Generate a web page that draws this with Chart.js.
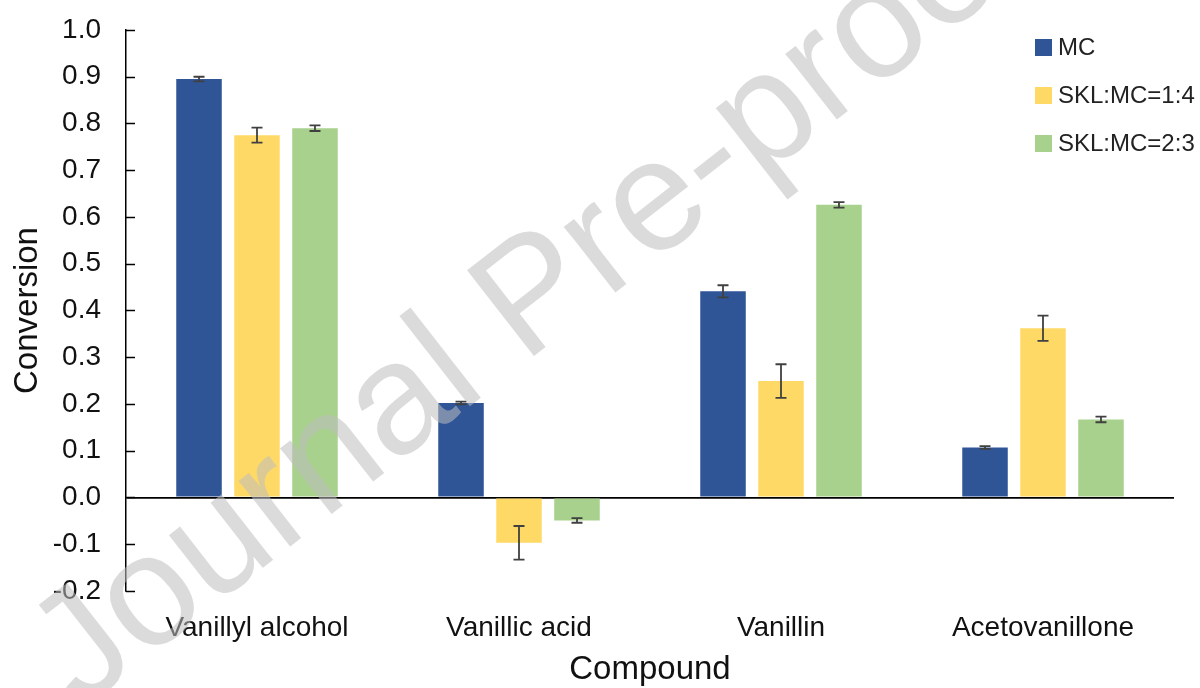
<!DOCTYPE html>
<html>
<head>
<meta charset="utf-8">
<script src="https://cdn.jsdelivr.net/npm/chart.js@4.4.0/dist/chart.umd.min.js"></script>
<style>
  html, body { margin: 0; padding: 0; background: #fff; }
  #wrap { width: 1200px; height: 688px; position: relative; }
</style>
</head>
<body>
<div id="wrap"><canvas id="conversionChart"></canvas></div>
<script>
const compounds = ['Vanillyl alcohol', 'Vanillic acid', 'Vanillin', 'Acetovanillone'];

const seriesNames = ['MC', 'SKL:MC=1:4', 'SKL:MC=2:3'];
const seriesColors = ['#2F5597', '#FFD966', '#A9D18E'];

const mcValues = [0.895, 0.202, 0.441, 0.107];
const skl14Values = [0.775, -0.097, 0.249, 0.362];
const skl23Values = [0.790, -0.049, 0.626, 0.167];

const mcErrors = [0.005, 0.003, 0.013, 0.003];
const skl14Errors = [0.016, 0.036, 0.036, 0.027];
const skl23Errors = [0.006, 0.005, 0.006, 0.006];

const yTicks = [-0.2, -0.1, 0.0, 0.1, 0.2, 0.3, 0.4, 0.5, 0.6, 0.7, 0.8, 0.9, 1.0];

const FONT = "'Liberation Sans', Arial, sans-serif";

// error whiskers with caps, drawn from each bar's own x and the y scale
const errorBars = {
  id: 'errorBars',
  afterDatasetsDraw(chart) {
    const { ctx, scales: { y } } = chart;
    ctx.save();
    ctx.strokeStyle = '#404040';
    ctx.lineWidth = 1.8;
    chart.data.datasets.forEach((ds, i) => {
      const meta = chart.getDatasetMeta(i);
      meta.data.forEach((bar, j) => {
        const v = ds.data[j], e = ds.errors[j];
        const y1 = y.getPixelForValue(v + e);
        const y2 = y.getPixelForValue(v - e);
        const cap = 5.5;
        ctx.beginPath();
        ctx.moveTo(bar.x, y1); ctx.lineTo(bar.x, y2);
        ctx.moveTo(bar.x - cap, y1); ctx.lineTo(bar.x + cap, y1);
        ctx.moveTo(bar.x - cap, y2); ctx.lineTo(bar.x + cap, y2);
        ctx.stroke();
      });
    });
    ctx.restore();
  }
};

// short tick marks pointing into the plot from the y axis
const innerTicks = {
  id: 'innerTicks',
  afterDraw(chart) {
    const { ctx, scales: { y }, chartArea } = chart;
    ctx.save();
    ctx.strokeStyle = '#000';
    ctx.lineWidth = 1.5;
    y.ticks.forEach(t => {
      const py = Math.round(y.getPixelForValue(t.value)) + 0.5;
      ctx.beginPath();
      ctx.moveTo(chartArea.left, py);
      ctx.lineTo(chartArea.left + 9, py);
      ctx.stroke();
    });
    ctx.restore();
  }
};

// legend in the top-right corner
const cornerLegend = {
  id: 'cornerLegend',
  afterDraw(chart) {
    const { ctx } = chart;
    ctx.save();
    ctx.font = `24px ${FONT}`;
    ctx.textBaseline = 'middle';
    chart.data.datasets.forEach((ds, i) => {
      const cy = 47 + i * 48;
      ctx.fillStyle = ds.backgroundColor;
      ctx.fillRect(1035, cy - 8, 17, 17);
      ctx.fillStyle = '#222';
      ctx.fillText(ds.label, 1058, cy + 1);
    });
    ctx.restore();
  }
};

// faint diagonal stamp over the figure
const stamp = {
  id: 'stamp',
  afterDraw(chart) {
    const { ctx } = chart;
    ctx.save();
    ctx.translate(535, 300);
    ctx.rotate(-38 * Math.PI / 180);
    ctx.font = `158px ${FONT}`;
    ctx.textAlign = 'center';
    ctx.textBaseline = 'middle';
    ctx.fillStyle = 'rgba(190, 190, 190, 0.55)';
    ctx.fillText('Journal Pre-proof', 0, 0);
    ctx.restore();
  }
};

const values = [mcValues, skl14Values, skl23Values];
const errors = [mcErrors, skl14Errors, skl23Errors];

new Chart(document.getElementById('conversionChart'), {
  type: 'bar',
  data: {
    labels: compounds,
    datasets: seriesNames.map((name, i) => ({
      label: name,
      data: values[i],
      errors: errors[i],
      backgroundColor: seriesColors[i],
      borderWidth: 0,
      categoryPercentage: 0.664,
      barPercentage: 0.785,
    })),
  },
  options: {
    responsive: true,
    maintainAspectRatio: false,
    animation: false,
    layout: { padding: { top: 30, right: 26, bottom: 0, left: 0 } },
    plugins: {
      legend: { display: false },
      tooltip: { enabled: false },
    },
    scales: {
      x: {
        grid: { display: false, drawTicks: false },
        border: { display: false },
        ticks: { color: '#111', font: { family: FONT, size: 28 }, padding: 20 },
        title: {
          display: true, text: 'Compound', color: '#111',
          font: { family: FONT, size: 33, lineHeight: 1.1 },
          padding: { top: 0, bottom: 0 },
        },
        afterFit(scale) { scale.height = 97; },
      },
      y: {
        min: -0.2,
        max: 1.0,
        afterBuildTicks(scale) { scale.ticks = yTicks.map(v => ({ value: v })); },
        ticks: {
          color: '#111',
          font: { family: FONT, size: 28 },
          padding: 25,
          callback: v => (Math.abs(v) < 1e-9 ? 0 : v).toFixed(1),
        },
        grid: {
          drawTicks: false,
          color: c => (Math.abs(c.tick.value) < 1e-9 ? '#000' : 'rgba(0,0,0,0)'),
          lineWidth: 1.8,
        },
        border: { display: true, color: '#000', width: 1.5 },
        title: {
          display: true, text: 'Conversion', color: '#111',
          font: { family: FONT, size: 33, lineHeight: 1.2 },
          padding: { top: 8, bottom: 0 },
        },
        afterFit(scale) {
          scale.width = 126;
          scale.paddingTop = 0;
          scale.paddingBottom = 0;
        },
      },
    },
  },
  plugins: [errorBars, innerTicks, cornerLegend, stamp],
});
</script>
</body>
</html>
